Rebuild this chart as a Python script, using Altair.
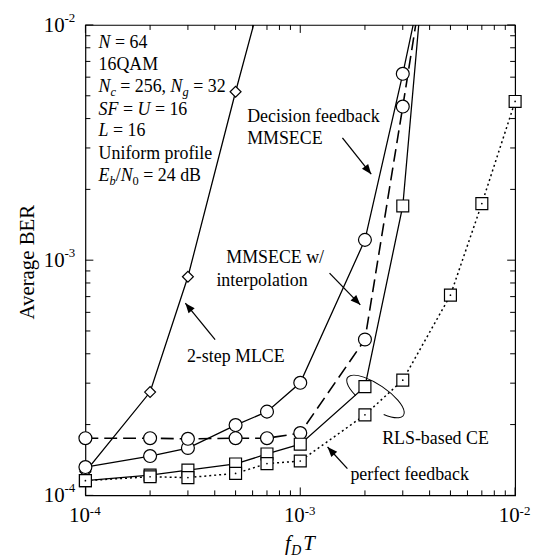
import math
import altair as alt
import pandas as pd

# ---------------- data ----------------
fdT_mlce = [1e-4, 2e-4, 3e-4, 5e-4, 7e-4]
ber_mlce = [1.26e-4, 2.75e-4, 8.5e-4, 5.2e-3, 1.63e-2]

fdT_ce = [1e-4, 2e-4, 3e-4, 5e-4, 7e-4, 1e-3, 2e-3, 3e-3, 5e-3]
ber_dfb = [1.32e-4, 1.47e-4, 1.59e-4, 1.99e-4, 2.27e-4, 3.01e-4, 1.22e-3, 6.2e-3, 5.6e-2]
ber_interp = [1.75e-4, 1.75e-4, 1.74e-4, 1.75e-4, 1.75e-4, 1.84e-4, 4.6e-4, 4.5e-3, 8.6e-2]
ber_rls = [1.155e-4, 1.22e-4, 1.28e-4, 1.36e-4, 1.5e-4, 1.65e-4, 2.9e-4, 1.7e-3, 3.4e-1]

fdT_perfect = [1e-4, 2e-4, 3e-4, 5e-4, 7e-4, 1e-3, 2e-3, 3e-3, 5e-3, 7e-3, 1e-2]
ber_perfect = [1.155e-4, 1.2e-4, 1.19e-4, 1.24e-4, 1.365e-4, 1.4e-4, 2.2e-4, 3.09e-4, 7.1e-4, 1.74e-3, 4.73e-3]

decades = [1e-4, 1e-3, 1e-2]
exponents = ["-4", "-3", "-2"]
minor_ticks = [2e-4, 3e-4, 4e-4, 5e-4, 6e-4, 7e-4, 8e-4, 9e-4,
               2e-3, 3e-3, 4e-3, 5e-3, 6e-3, 7e-3, 8e-3, 9e-3]

# ---------------- layout ----------------
W, H = 433, 474
FONT = "Liberation Serif"
xs = alt.Scale(type="log", domain=[1e-4, 1e-2])
ys = alt.Scale(type="log", domain=[1e-4, 1e-2])


def xy():
    return dict(x=alt.X("x:Q", scale=xs, axis=None), y=alt.Y("y:Q", scale=ys, axis=None))


def line(xv, yv, dash=None, width=1.3):
    kw = dict(color="black", strokeWidth=width, clip=True)
    if dash:
        kw["strokeDash"] = dash
    df = pd.DataFrame({"x": xv, "y": yv})
    return alt.Chart(df).mark_line(**kw).encode(**xy())


def points(xv, yv, shape, size):
    df = pd.DataFrame({"x": xv, "y": yv})
    return (alt.Chart(df).transform_filter("datum.y <= 0.0100001")
            .mark_point(shape=shape, size=size, filled=True, fill="white",
                        stroke="black", strokeWidth=1.2, opacity=1)
            .encode(**xy()))


layers = []

# ticks (inward, all four sides)
tdf_min = pd.DataFrame({"v": minor_ticks})
tdf_maj = pd.DataFrame({"v": decades})
for tdf, ln in [(tdf_min, 5), (tdf_maj, 8)]:
    xe = alt.X("v:Q", scale=xs, axis=None)
    ye = alt.Y("v:Q", scale=ys, axis=None)
    rule = alt.Chart(tdf).mark_rule(color="black", strokeWidth=1)
    layers += [
        rule.encode(x=xe, y=alt.value(H), y2=alt.value(H - ln)),
        rule.encode(x=xe, y=alt.value(0), y2=alt.value(ln)),
        rule.encode(y=ye, x=alt.value(0), x2=alt.value(ln)),
        rule.encode(y=ye, x=alt.value(W), x2=alt.value(W - ln)),
    ]

# tick labels 10^k
ldf = pd.DataFrame({"v": decades, "e": exponents})
layers += [
    alt.Chart(ldf).mark_text(font=FONT, fontSize=21, align="right", baseline="alphabetic", dx=4.5, color="black")
    .encode(x=alt.X("v:Q", scale=xs, axis=None), y=alt.value(H + 27), text=alt.value("10")),
    alt.Chart(ldf).mark_text(font=FONT, fontSize=13, align="left", baseline="alphabetic", dx=4.5, color="black")
    .encode(x=alt.X("v:Q", scale=xs, axis=None), y=alt.value(H + 20), text="e:N"),
    alt.Chart(ldf).mark_text(font=FONT, fontSize=21, align="right", baseline="alphabetic", dy=7, color="black")
    .encode(y=alt.Y("v:Q", scale=ys, axis=None), x=alt.value(-21), text=alt.value("10")),
    alt.Chart(ldf).mark_text(font=FONT, fontSize=13, align="left", baseline="alphabetic", dy=-3, color="black")
    .encode(y=alt.Y("v:Q", scale=ys, axis=None), x=alt.value(-21), text="e:N"),
]

# series lines
layers += [
    line(fdT_mlce, ber_mlce),
    line(fdT_ce, ber_dfb),
    line(fdT_ce, ber_interp, dash=[13, 6], width=1.6),
    line(fdT_ce, ber_rls),
    line(fdT_perfect, ber_perfect, dash=[2, 3], width=1.5),
]
# markers
layers += [
    points(fdT_mlce, ber_mlce, "diamond", 121),
    points(fdT_ce, ber_dfb, "circle", 169),
    points(fdT_ce, ber_interp, "circle", 169),
    points(fdT_ce, ber_rls, "square", 144),
    points(fdT_perfect, ber_perfect, "square", 144),
]
pdf = pd.DataFrame({"x": fdT_perfect, "y": ber_perfect})
layers.append(alt.Chart(pdf).transform_filter("datum.y <= 0.0100001")
              .mark_point(shape="circle", size=3, filled=True, color="black", opacity=1)
              .encode(**xy()))

# ---------------- annotations (pixel positions in plot area) ----------------
ann = [
    # text, x, y, size, italic
    ("N", 13.3, 23.7, 18, True), ("= 64", 29.8, 23.7, 18, False),
    ("16QAM", 13.3, 45.3, 18, False),
    ("N", 13.3, 67.7, 18, True), ("c", 25.3, 71.7, 12.5, True), ("= 256,", 35.1, 67.7, 18, False),
    ("N", 85.8, 67.7, 18, True), ("g", 97.8, 71.7, 12.5, True), ("= 32", 108.6, 67.7, 18, False),
    ("SF", 13.3, 90.3, 18, True), ("=", 37.8, 90.3, 18, False), ("U", 52.5, 90.3, 18, True),
    ("= 16", 70.0, 90.3, 18, False),
    ("L", 13.3, 112.0, 18, True), ("= 16", 27.8, 112.0, 18, False),
    ("Uniform profile", 13.3, 135.3, 18, False),
    ("E", 13.3, 157.0, 18, True), ("b", 24.3, 161.0, 12.5, True), ("/", 30.5, 157.0, 18, False),
    ("N", 35.5, 157.0, 18, True), ("0", 47.5, 161.0, 12.5, False), ("= 24 dB", 58.3, 157.0, 18, False),
    ("Decision feedback", 163.0, 97.7, 18, False), ("MMSECE", 163.0, 119.7, 18, False),
    ("MMSECE w/", 142.0, 240.0, 18, False), ("interpolation", 132.0, 263.0, 18, False),
    ("2-step MLCE", 102.3, 339.7, 18, False),
    ("RLS-based CE", 299.0, 422.0, 18, False),
    ("perfect feedback", 267.0, 458.7, 18, False),
    # x-axis title f_D T
    ("f", 201.0, 529.5, 21, True), ("D", 207.5, 534.5, 14, True), ("T", 219.5, 529.5, 21, True),
]
adf = pd.DataFrame(ann, columns=["t", "x", "y", "s", "it"])
for it in [True, False]:
    sub = adf[adf["it"] == it]
    layers.append(
        alt.Chart(sub).mark_text(font=FONT, align="left", baseline="alphabetic", color="black",
                                 fontStyle="italic" if it else "normal")
        .encode(x=alt.X("x:Q", scale=None, axis=None), y=alt.Y("y:Q", scale=None, axis=None),
                text="t:N", size=alt.Size("s:Q", scale=None, legend=None))
    )

# y-axis title
layers.append(
    alt.Chart(pd.DataFrame({"t": ["Average BER"]})).mark_text(
        font=FONT, fontSize=21, angle=270, align="center", baseline="middle", color="black")
    .encode(x=alt.value(-58), y=alt.value(H / 2 + 2), text="t:N")
)

# arrows
arrows = [(259, 113.7, 288, 150.3), (246, 250, 277, 282),
          (130.7, 317, 100.7, 280.3), (264, 447, 244, 425.3)]
adf2 = pd.DataFrame(arrows, columns=["x", "y", "x2", "y2"])
adf2["ang"] = [(math.degrees(math.atan2(b[2] - b[0], -(b[3] - b[1]))) + 360) % 360 for b in arrows]
layers.append(alt.Chart(adf2).mark_rule(color="black", strokeWidth=1.3).encode(
    x=alt.X("x:Q", scale=None, axis=None), y=alt.Y("y:Q", scale=None, axis=None), x2="x2:Q", y2="y2:Q"))
layers.append(alt.Chart(adf2).mark_point(shape="M0,0L0.4,1L-0.4,1Z", size=400, filled=True,
                                         color="black", opacity=1).encode(
    x=alt.X("x2:Q", scale=None, axis=None), y=alt.Y("y2:Q", scale=None, axis=None),
    angle=alt.Angle("ang:Q", scale=None)))

# ellipse around RLS squares
layers.append(alt.Chart(pd.DataFrame({"x": [292.3], "y": [374.3]})).mark_point(
    shape="M-0.5,0.306A1,0.353,0,1,1,0.5,0.306", size=4624, angle=34, filled=False,
    color="black", strokeWidth=1, opacity=1).encode(
    x=alt.X("x:Q", scale=None, axis=None), y=alt.Y("y:Q", scale=None, axis=None)))

chart = alt.layer(*layers).resolve_scale(x="independent", y="independent", size="independent").properties(
    width=W, height=H,
    padding={"left": 78, "top": 15, "right": 16, "bottom": 62},
    autosize=alt.AutoSizeParams(type="none"),
).configure_view(stroke="black", strokeWidth=1.2)

chart.save("out.html", embed_options={"renderer": "svg", "actions": False})
